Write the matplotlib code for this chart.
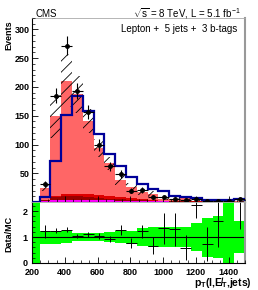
import numpy as np
import matplotlib
matplotlib.use("Agg")
import matplotlib.pyplot as plt
import matplotlib.ticker as ticker

plt.rcParams["font.family"] = ["Liberation Sans", "DejaVu Sans"]
plt.rcParams["mathtext.fontset"] = "custom"
plt.rcParams["mathtext.rm"] = "Liberation Sans"
plt.rcParams["mathtext.it"] = "Liberation Sans"
plt.rcParams["mathtext.bf"] = "Liberation Sans:bold"
plt.rcParams["hatch.linewidth"] = 0.6

# binning: 20 bins of 66 GeV starting at 180
bin_lo, bin_w, n_bins = 180, 66, 20

# observed events per bin
data = [0, 31, 185, 272, 193, 156, 99, 62, 48, 20, 21, 9, 8, 6, 4, 5, 2, 2, 1, 5]

# stacked MC components (bottom to top)
mc_magenta = [0, 1, 3, 4, 4, 4, 3.5, 3, 2.5, 2, 1.5, 1.2, 0.9, 0.7, 0.5, 0.4, 0.3, 0.2, 0.1, 0.1]
mc_darkred = [0, 2, 5, 6, 6, 5, 4, 3, 2.5, 2, 1.5, 1, 0.7, 0.5, 0.4, 0.3, 0.2, 0.1, 0.1, 0.1]
mc_red = [0, 1, 3, 4, 4, 5, 5, 4, 3, 2.5, 2, 1.5, 1, 0.7, 0.5, 0.4, 0.3, 0.2, 0.1, 0.1]
mc_salmon = [0, 21, 138, 197, 173, 127, 81.5, 57, 30, 19.5, 12, 9.8, 3.4, 2.7, 5.4, 1.1, 2.0, 0.7, 0.1, 1.6]

# alternative prediction (blue outline)
mc_blue = [0, 9.5, 72, 152, 185, 158, 119, 83, 63, 43, 31, 22, 18.5, 10, 8, 6.5, 4, 4, 4, 6]

# relative MC uncertainty (green band / hatch)
mc_unc = [3.0, 0.25, 0.25, 0.22, 0.17, 0.15, 0.16, 0.18, 0.22, 0.25, 0.33, 0.38, 0.38, 0.38, 0.4,
          0.55, 0.75, 0.8, 3.0, 0.6]

# data / MC ratio and its error
ratio = [np.nan, 1.23, 1.24, 1.29, 1.03, 1.10, 1.05, 0.92, 1.27, 0.76, 1.23, 0.67, 1.33, 1.30, 0.59,
         2.23, 0.72, 1.62, np.nan, 2.6]
ratio_err = [0, 0.25, 0.1, 0.08, 0.08, 0.09, 0.11, 0.12, 0.2, 0.2, 0.25, 0.32, 0.6, 0.63, 0.48,
             0.5, 0.65, 1.0, 0, 1.3]

edges = bin_lo + bin_w * np.arange(n_bins + 1)
centers = 0.5 * (edges[:-1] + edges[1:])

W, H = 258, 290
fig = plt.figure(figsize=(W / 100, H / 100), dpi=100)
ax = fig.add_axes([32 / W, 1 - 202 / H, 213 / W, 184 / H])
rx = fig.add_axes([32 / W, 1 - 263 / H, 213 / W, 61 / H])

# stacked histograms
layers = [(mc_magenta, "#ff00ff"), (mc_darkred, "#990000"), (mc_red, "#dd0000"), (mc_salmon, "#ff6666")]
bottom = np.zeros(n_bins)
for vals, col in layers:
    top = bottom + np.array(vals)
    ax.stairs(top, edges, baseline=bottom, fill=True, color=col, lw=0)
    bottom = top
total = bottom

unc = np.array(mc_unc)
lo = np.clip(total * (1 - unc), 0, None)
hi = total * (1 + unc)
ax.bar(centers, hi - lo, bottom=lo, width=bin_w, fill=False, hatch="///",
       edgecolor="black", linewidth=0, zorder=3)

ax.stairs(mc_blue, edges, baseline=0, color="#000099", lw=1.6, zorder=4)

d = np.array(data, dtype=float)
m = d > 0
ax.errorbar(centers[m], d[m], xerr=bin_w / 2, yerr=np.sqrt(d[m]), fmt="o", ms=2.5,
            color="black", ecolor="black", elinewidth=0.8, capsize=0, zorder=5)

ax.set_xlim(200, 1500)
ax.set_ylim(0, 320)
ax.set_xticklabels([])
ax.yaxis.set_major_locator(ticker.FixedLocator([50, 100, 150, 200, 250, 300]))
ax.yaxis.set_minor_locator(ticker.MultipleLocator(10))
ax.xaxis.set_major_locator(ticker.MultipleLocator(200))
ax.xaxis.set_minor_locator(ticker.MultipleLocator(50))

# ratio panel
rx.stairs(1 + unc, edges, baseline=1 - unc, fill=True, color="#00ff00", lw=0)
rx.axhline(1, color="black", lw=0.8)
r = np.array(ratio)
re = np.array(ratio_err)
ok = ~np.isnan(r)
rx.errorbar(centers[ok], r[ok], xerr=bin_w / 2, yerr=re[ok], fmt="none",
            ecolor="black", elinewidth=0.7, capsize=0)
rx.set_xlim(200, 1500)
rx.set_ylim(0, 2.35)
rx.yaxis.set_major_locator(ticker.MultipleLocator(1))
rx.yaxis.set_minor_locator(ticker.MultipleLocator(0.2))
rx.xaxis.set_major_locator(ticker.MultipleLocator(200))
rx.xaxis.set_minor_locator(ticker.MultipleLocator(50))

for a in (ax, rx):
    a.tick_params(which="both", direction="in", top=False, right=False, labelsize=6.5, pad=1.5)
    a.tick_params(which="major", length=4, width=0.6)
    a.tick_params(which="minor", length=2, width=0.5)
    for lab in a.get_xticklabels() + a.get_yticklabels():
        lab.set_fontweight("bold")
    a.spines["top"].set_color("#aaaaaa")
    a.spines["top"].set_linewidth(0.6)
    a.spines["right"].set_color("#999999")
    a.spines["right"].set_linewidth(1.5)
    a.spines["left"].set_linewidth(0.8)
    a.spines["bottom"].set_linewidth(0.8)
    a.set_axisbelow(False)
rx.tick_params(axis="x", pad=3.5)
rx.tick_params(axis="y", pad=3)

fig.text(8.5 / W, 1 - 20 / H, "Events", rotation=90, ha="center", va="top",
         fontsize=6.5, fontweight="bold")
fig.text(8.5 / W, 1 - 234 / H, "Data/MC", rotation=90, ha="center", va="center",
         fontsize=6.5, fontweight="bold")
fig.text(35 / W, 1 - 14 / H, "CMS", ha="left", va="center", fontsize=7)
fig.text(241 / W, 1 - 14 / H, r"$\sqrt{s}$ = 8 TeV, L = 5.1 fb$^{-1}$", ha="right", va="center",
         fontsize=7)
fig.text(237 / W, 1 - 29 / H, "Lepton +  5 jets +  3 b-tags", ha="right", va="center", fontsize=7)
fig.text(252 / W, 1 - 283 / H, "p$_{\\mathregular{T}}$(l,E\u0338$_{\\mathregular{T}}$,jets)",
         ha="right", va="center", fontsize=7.5, fontweight="bold")

fig.savefig("out.png", dpi=100)
